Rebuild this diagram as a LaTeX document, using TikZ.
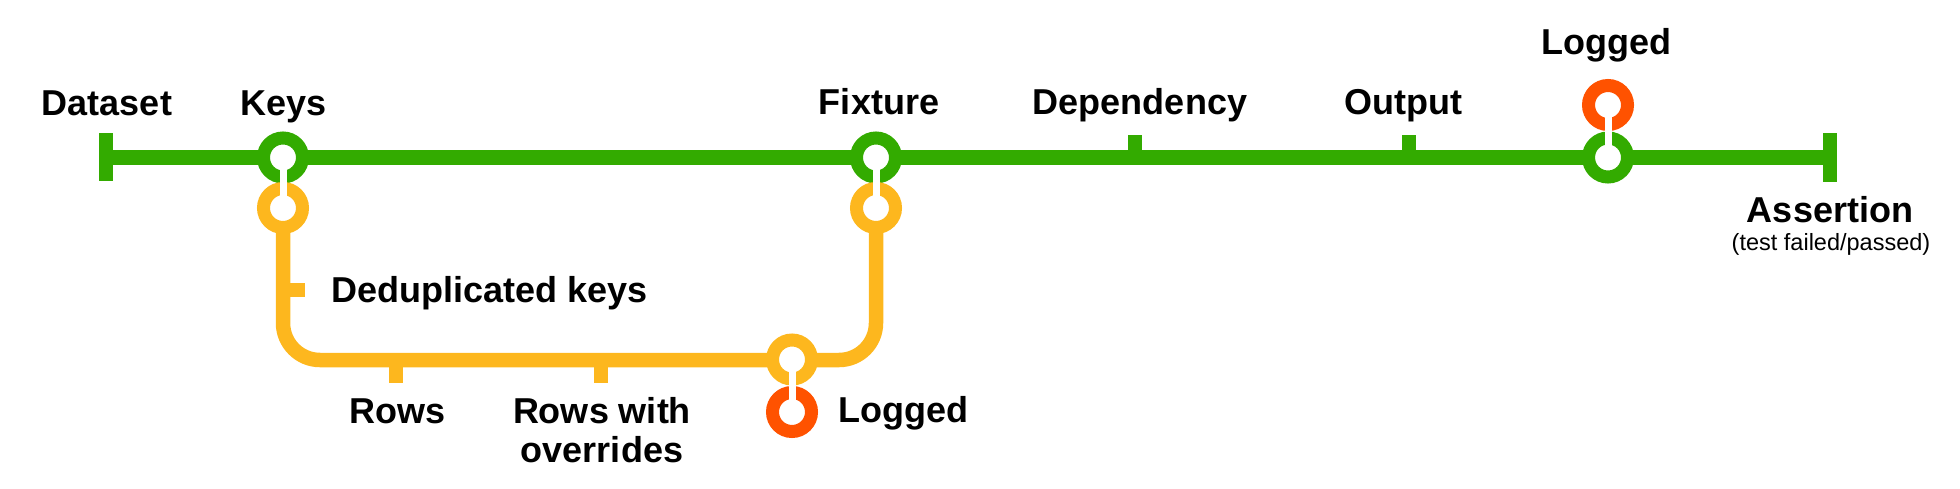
\documentclass[tikz,border=0pt]{standalone}
\usepackage{fontspec}
\setmainfont{Liberation Sans}
\definecolor{lgreen}{HTML}{33AB00}
\definecolor{lyellow}{HTML}{FDB71E}
\definecolor{lred}{HTML}{FF5200}
\begin{document}
\begin{tikzpicture}[x=1pt,y=-1pt,
  gline/.style={draw=lgreen,line width=14.5pt},
  yline/.style={draw=lyellow,line width=14.5pt},
  ring/.style={circle,minimum size=39pt,inner sep=0pt,line width=13pt,fill=white},
  gring/.style={ring,draw=lgreen},
  yring/.style={ring,draw=lyellow},
  rring/.style={ring,draw=lred},
  link/.style={draw=white,line width=7pt},
  lbl/.style={font=\bfseries\fontsize{36}{40}\selectfont,inner sep=0pt,anchor=base},
  smalllbl/.style={font=\fontsize{23.5}{27}\selectfont,inner sep=0pt,anchor=base}]
\useasboundingbox (0,0) rectangle (1960,488);
% coordinates
\coordinate (ds) at (106,157.5);
\coordinate (dsA) at (106,133);
\coordinate (dsB) at (106,181);
\coordinate (as) at (1830,157.5);
\coordinate (asA) at (1830,133);
\coordinate (asB) at (1830,182);
\coordinate (dep) at (1135,157.5);
\coordinate (depT) at (1135,135);
\coordinate (out) at (1409,157.5);
\coordinate (outT) at (1409,135);
\coordinate (c1) at (283,360);
\coordinate (c2) at (876,360);
\coordinate (ded) at (283,290);
\coordinate (dedT) at (305,290);
\coordinate (rows) at (396,360);
\coordinate (rowsT) at (396,383);
\coordinate (rwo) at (601,360);
\coordinate (rwoT) at (601,383);
\coordinate (pK) at (283,157.5);
\coordinate (pF) at (876,157.5);
\coordinate (pKY) at (283,208);
\coordinate (pFY) at (876,208);
% green line
\draw[gline] (ds) -- (as);
\draw[gline] (dsA) -- (dsB);
\draw[gline] (asA) -- (asB);
\draw[gline] (dep) -- (depT);
\draw[gline] (out) -- (outT);
% yellow line
\draw[yline,rounded corners=37pt] (pKY) -- (c1) -- (c2) -- (pFY);
\draw[yline] (ded) -- (dedT);
\draw[yline] (rows) -- (rowsT);
\draw[yline] (rwo) -- (rwoT);
% rings
\node[gring] (keys) at (pK) {};
\node[gring] (fix) at (pF) {};
\node[gring] (logg) at (1608,157.5) {};
\node[yring] (keysy) at (pKY) {};
\node[yring] (fixy) at (pFY) {};
\node[yring] (junc) at (792,359.5) {};
\node[rring] (logtop) at (1608,105) {};
\node[rring] (logbot) at (792,412) {};
% links
\draw[link] (keys.center) -- (keysy.center);
\draw[link] (fix.center) -- (fixy.center);
\draw[link] (logtop.center) -- (logg.center);
\draw[link] (junc.center) -- (logbot.center);
% labels
\node[lbl] (tds) at (107,115) {Dataset};
\node[lbl] (tkeys) at (284,115) {Keys};
\node[lbl] (tfix) at (879,114) {Fixture};
\node[lbl] (tdep) at (1140,114) {Dependency};
\node[lbl] (tout) at (1403,114) {Output};
\node[lbl] (tlogt) at (1606,54) {Logged};
\node[lbl] (tas) at (1830,222) {Assertion};
\node[smalllbl] (tsub) at (1831,250) {(test failed/passed)};
\node[lbl,anchor=base west] (tded) at (331,302) {Deduplicated keys};
\node[lbl] (trows) at (398,423) {Rows};
\node[lbl] (trwo1) at (602,423) {Rows with};
\node[lbl] (trwo2) at (602,462) {overrides};
\node[lbl,anchor=base west] (tlogb) at (838,422) {Logged};
\end{tikzpicture}
\end{document}
